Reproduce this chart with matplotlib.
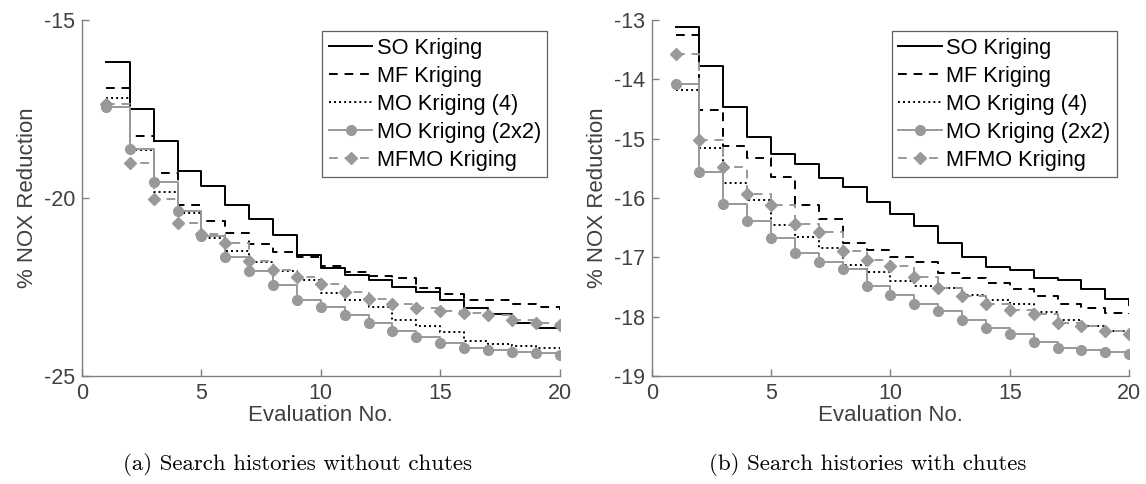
import matplotlib
matplotlib.use("Agg")
import matplotlib.pyplot as plt
import numpy as np

# ---------------- data ----------------
evals = list(range(1, 21))
series_labels = ["SO Kriging", "MF Kriging", "MO Kriging (4)", "MO Kriging (2x2)", "MFMO Kriging"]

so_a = [-16.19, -17.51, -18.41, -19.24, -19.65, -20.21, -20.59, -21.05, -21.60, -21.98,
        -22.16, -22.30, -22.49, -22.65, -22.87, -23.08, -23.25, -23.50, -23.64, -23.70]
mf_a = [-16.90, -18.26, -19.31, -20.20, -20.64, -20.99, -21.30, -21.51, -21.65, -21.90,
        -22.07, -22.19, -22.26, -22.54, -22.71, -22.87, -22.87, -22.99, -23.07, -23.15]
mo4_a = [-17.20, -18.65, -19.82, -20.41, -21.13, -21.48, -21.79, -22.04, -22.30, -22.68,
         -22.87, -23.05, -23.43, -23.60, -23.76, -24.01, -24.10, -24.16, -24.22, -24.27]
mo22_a = [-17.43, -18.63, -19.56, -20.37, -21.07, -21.65, -22.05, -22.44, -22.87, -23.05,
          -23.30, -23.50, -23.74, -23.91, -24.06, -24.20, -24.27, -24.32, -24.35, -24.41]
mfmo_a = [-17.35, -19.03, -20.03, -20.71, -21.00, -21.27, -21.76, -22.02, -22.21, -22.42,
          -22.63, -22.84, -22.98, -23.10, -23.17, -23.24, -23.30, -23.43, -23.52, -23.57]

so_b = [-13.12, -13.77, -14.46, -14.97, -15.26, -15.43, -15.67, -15.81, -16.06, -16.27,
        -16.47, -16.76, -16.99, -17.16, -17.21, -17.35, -17.39, -17.54, -17.71, -17.80]
mf_b = [-13.25, -14.51, -15.12, -15.33, -15.64, -16.11, -16.35, -16.75, -16.88, -17.00,
        -17.08, -17.27, -17.35, -17.44, -17.54, -17.65, -17.78, -17.86, -17.94, -17.95]
mo4_b = [-14.18, -15.15, -15.75, -16.03, -16.46, -16.65, -16.85, -17.13, -17.24, -17.40,
         -17.48, -17.51, -17.64, -17.72, -17.79, -17.92, -18.05, -18.16, -18.24, -18.27]
mo22_b = [-14.08, -15.56, -16.10, -16.39, -16.68, -16.92, -17.08, -17.20, -17.48, -17.63,
          -17.79, -17.90, -18.06, -18.19, -18.30, -18.43, -18.53, -18.56, -18.60, -18.63]
mfmo_b = [-13.58, -15.02, -15.47, -15.94, -16.12, -16.44, -16.57, -16.90, -17.05, -17.15,
          -17.33, -17.51, -17.66, -17.79, -17.89, -17.96, -18.10, -18.16, -18.24, -18.30]

xticks = [0, 5, 10, 15, 20]
yticks_a = [-25, -20, -15]
yticks_b = [-19, -18, -17, -16, -15, -14, -13]
xlabel = "Evaluation No."
ylabel = "% NOX Reduction"
caption_a = "(a) Search histories without chutes"
caption_b = "(b) Search histories with chutes"

# ---------------- style ----------------
plt.rcParams["font.family"] = ["Liberation Sans", "DejaVu Sans"]
plt.rcParams["axes.unicode_minus"] = False

W, H = 1146, 484
fig = plt.figure(figsize=(W / 100, H / 100), dpi=100)

axis_col = "#808080"
text_col = "#404040"
grey = "#999999"
lw = 1.4

styles = [
    dict(color="black", lw=lw, ls="-"),
    dict(color="black", lw=lw, ls=(0, (4.5, 3.5))),
    dict(color="black", lw=lw, ls=(0, (1, 1.6))),
    dict(color=grey, lw=lw, ls="-", marker="o", ms=7, mfc=grey, mec=grey),
    dict(color=grey, lw=lw, ls=(0, (4.5, 3.5)), marker="D", ms=6.3, mfc=grey, mec=grey),
]


def make_panel(rect, data, ylim, yticks, caption):
    ax = fig.add_axes(rect)
    for ys, st, lab in zip(data, styles, series_labels):
        ax.step(evals, ys, where="post", label=lab, **st)
    ax.set_xlim(0, 20)
    ax.set_ylim(*ylim)
    ax.set_xticks(xticks)
    ax.set_yticks(yticks)
    ax.set_yticklabels([str(t) for t in yticks])
    for s in ["top", "right"]:
        ax.spines[s].set_visible(False)
    for s in ["left", "bottom"]:
        ax.spines[s].set_color(axis_col)
        ax.spines[s].set_linewidth(1.0)
    ax.tick_params(direction="in", length=5, width=1.0, color=axis_col,
                   labelsize=15.5, labelcolor=text_col, pad=5)
    ax.set_xlabel(xlabel, fontsize=16, color=text_col, labelpad=1)
    ax.set_ylabel(ylabel, fontsize=16, color=text_col, labelpad=4)
    leg = ax.legend(loc="upper left", bbox_to_anchor=(0.503, 0.968), fontsize=15.7,
                    frameon=True, fancybox=False, edgecolor="#606060", framealpha=1,
                    handlelength=2.0, handletextpad=0.2, labelspacing=0.32,
                    borderpad=0.3, borderaxespad=0.0, numpoints=1)
    leg.get_frame().set_linewidth(0.9)
    # caption below axes
    x0, y0, w, h = rect
    fig.text(x0 + w / 2 - 0.02, 1 - 465 / H, caption, family="cmr10", fontsize=16.5,
             ha="center", va="center", color="black")
    return ax


ax_w = 477.5 / W
ax_h = 356 / H
bottom = 1 - 376 / H
make_panel([82 / W, bottom, ax_w, ax_h], [so_a, mf_a, mo4_a, mo22_a, mfmo_a],
           (-25, -15), yticks_a, caption_a)
make_panel([651.7 / W, bottom, ax_w, ax_h], [so_b, mf_b, mo4_b, mo22_b, mfmo_b],
           (-19, -13), yticks_b, caption_b)

fig.savefig("out.png", dpi=100)
